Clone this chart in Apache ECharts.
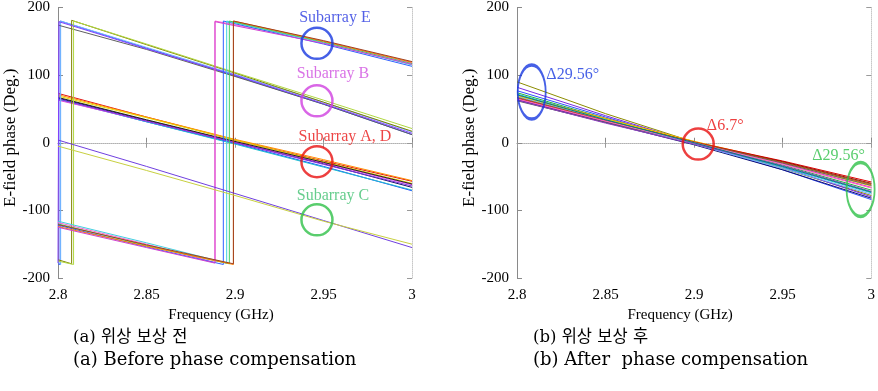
<!DOCTYPE html>
<html>
<head>
<meta charset="utf-8">
<script src="https://cdn.jsdelivr.net/npm/echarts/dist/echarts.min.js"></script>
<style>
html,body{margin:0;padding:0;background:#fff;}
#chart{width:878px;height:391px;}
</style>
</head>
<body>
<div id="chart"></div>
<script>
// ---------- tick labels ----------
const xTicks = [2.8, 2.85, 2.9, 2.95, 3];
const yTicks = [-200, -100, 0, 100, 200];

// ---------- (a) before compensation : [GHz, deg] ----------
// Subarray A, D group
const ad1 = [[2.8,73],[2.85,38],[2.9,4],[2.95,-27],[3.0,-57]];
const ad2 = [[2.8,71],[2.85,38],[2.9,5],[2.95,-25],[3.0,-56]];
const ad3 = [[2.8,65],[2.85,31],[2.9,-1],[2.95,-35],[3.0,-71]];
const ad4 = [[2.8,66],[2.85,33],[2.9,1],[2.95,-31],[3.0,-66]];
const ad5 = [[2.8,64],[2.85,31],[2.9,-2],[2.95,-36],[3.0,-70]];
const ad6 = [[2.8,63],[2.85,32],[2.9,1],[2.95,-30],[3.0,-62]];
const ad7 = [[2.8,69],[2.85,37],[2.9,4],[2.95,-28],[3.0,-60]];
const ad8 = [[2.8,65],[2.85,32],[2.9,0],[2.95,-32],[3.0,-64]];
const ad9 = [[2.8,67],[2.85,34],[2.9,2],[2.95,-29],[3.0,-61]];
// Subarray B group (wraps near 2.80-2.81)
const b1 = [[2.8,-179],[2.8012,-180],[2.8012,180],[2.85,140],[2.9,99],[2.95,57],[3.0,12]];
const b2 = [[2.8,-177],[2.8015,-180],[2.8015,180],[2.85,141],[2.9,101],[2.95,60],[3.0,16]];
const b3 = [[2.8,174],[2.85,138],[2.9,98],[2.95,57],[3.0,12]];
const b4 = [[2.8,-173],[2.8077,-179],[2.8077,181],[2.85,145],[2.9,103],[2.95,60],[3.0,17]];
const b5 = [[2.8,-175],[2.8088,-180],[2.8088,180],[2.85,146],[2.9,104],[2.95,63],[3.0,21]];
const b6 = [[2.8,-178],[2.8005,-180],[2.8005,179],[2.85,139],[2.9,100],[2.95,58],[3.0,14]];
// Subarray E group (wraps near 2.89-2.90)
const e1 = [[2.8,-118],[2.85,-150],[2.8887,-177],[2.8887,180],[2.95,150],[3.0,118]];
const e2 = [[2.8,-122],[2.85,-154],[2.8934,-180],[2.8934,180],[2.95,146],[3.0,113]];
const e3 = [[2.8,-116],[2.85,-148],[2.8953,-178],[2.8953,180],[2.95,148],[3.0,115]];
const e4 = [[2.8,-120],[2.85,-152],[2.8968,-179],[2.8968,180],[2.95,149],[3.0,117]];
const e5 = [[2.8,-124],[2.85,-153],[2.8991,-180],[2.8991,180],[2.95,150],[3.0,119]];
const e6 = [[2.8,-125],[2.85,-155],[2.8887,-178],[2.8887,179],[2.95,147],[3.0,116]];
const e7 = [[2.8,-121],[2.85,-151],[2.8991,-179],[2.8991,180],[2.95,151],[3.0,120]];
// Subarray C group
const c1 = [[2.8,4],[2.85,-35],[2.9,-75],[2.95,-115],[3.0,-155]];
const c2 = [[2.8,-5],[2.85,-41],[2.9,-78],[2.95,-116],[3.0,-150]];

// ---------- (b) after compensation ----------
const r1  = [[2.8,90],[2.85,43],[2.9,1],[2.95,-38],[3.0,-78]];
const r2  = [[2.8,82],[2.85,40],[2.9,0],[2.95,-36],[3.0,-80]];
const r3  = [[2.8,77],[2.85,38],[2.9,-1],[2.95,-40],[3.0,-84]];
const r4  = [[2.8,74],[2.85,36],[2.9,1],[2.95,-33],[3.0,-70]];
const r5  = [[2.8,72],[2.85,35],[2.9,-1],[2.95,-36],[3.0,-74]];
const r6  = [[2.8,70],[2.85,36],[2.9,2],[2.95,-28],[3.0,-62]];
const r7  = [[2.8,69],[2.85,35],[2.9,2],[2.95,-30],[3.0,-64]];
const r8  = [[2.8,66],[2.85,33],[2.9,1],[2.95,-27],[3.0,-58]];
const r9  = [[2.8,65],[2.85,32],[2.9,0],[2.95,-28],[3.0,-60]];
const r10 = [[2.8,64],[2.85,31],[2.9,-1],[2.95,-31],[3.0,-66]];
const r11 = [[2.8,63],[2.85,30],[2.9,-3],[2.95,-40],[3.0,-82]];
const r12 = [[2.8,62],[2.85,30],[2.9,0],[2.95,-30],[3.0,-63]];
const r13 = [[2.8,68],[2.85,34],[2.9,-2],[2.95,-38],[3.0,-76]];
const r14 = [[2.8,67],[2.85,33],[2.9,1],[2.95,-29],[3.0,-61]];
const r15 = [[2.8,65],[2.85,32],[2.9,0],[2.95,-32],[3.0,-67]];
const r16 = [[2.8,63],[2.85,29],[2.9,-2],[2.95,-34],[3.0,-72]];
const r17 = [[2.8,71],[2.85,34],[2.9,0],[2.95,-35],[3.0,-73]];

// ---------- annotations ----------
const leftMarks = [[2.9463,147],[2.9463,62],[2.9463,-28],[2.9463,-114]];
const leftMarkText = ['Subarray E','Subarray B','Subarray A, D','Subarray C'];
const rightMarks = [[2.8083,75],[2.9023,-2],[2.9940,-69]];
const rightMarkText = ['\u039429.56\u00b0','\u03946.7\u00b0','\u039429.56\u00b0'];
const captions = ['(a) 위상 보상 전','(a) Before phase compensation','(b) 위상 보상 후','(b) After  phase compensation'];

// ---------- styles ----------
const leftSeriesData = [ad1,ad2,ad3,ad4,ad5,ad6,ad7,ad8,ad9,b1,b2,b3,b4,b5,b6,e1,e2,e3,e4,e5,e6,e7,c1,c2];
const leftColors = ['#e01010','#ff8c00','#2040ff','#151560','#20c0d0','#e040e0','#e8d800','#8030e0','#202020',
  '#3050ff','#70b8ff','#606060','#808000','#b0d840','#8040ff',
  '#ff60d0','#3060ff','#40d0e0','#40d060','#ff8000','#d040d0','#a04020',
  '#7040e0','#c8d040'];
const rightSeriesData = [r1,r2,r3,r4,r5,r6,r7,r8,r9,r10,r11,r12,r13,r14,r15,r16,r17];
const rightColors = ['#8c8c00','#7a28e0','#3050ff','#20b040','#20c0d0','#ff8c00','#e8e000','#e00000','#900000',
  '#d020d0','#101070','#606060','#70b0ff','#a05020','#ff70c0','#9040c0','#008080'];
const leftMarkColors = ['#1838e0','#d040e0','#e81010','#30c048'];
const leftTextColors = ['#2838e0','#d050e0','#e81818','#40c070'];
const leftOffsets = [[18,-26],[16,-27],[28,-25],[16,-24]];
const rightMarkColors = ['#1838e0','#e81010','#30c048'];
const rightOffsets = [[41,-17],[27,-18],[-22,-34]];
const rightSizes = [[28,54],[31,31],[28,54]];

const SERIF = 'Liberation Serif';
const CAP = 'DejaVu Serif';
const KR = 'DejaVu Serif, Noto Sans CJK KR';
const ELLIPSE = 'path://M1,0 C1.552,0 2,0.448 2,1 C2,1.552 1.552,2 1,2 C0.448,2 0,1.552 0,1 C0,0.448 0.448,0 1,0 Z';

function fmtX(v){ return String(+v.toFixed(2)); }

function mainX(grid){
  return {
    type:'value', gridIndex:grid, min:xTicks[0], max:xTicks[xTicks.length-1], interval:0.05,
    name:'Frequency (GHz)', nameLocation:'middle', nameGap:28,
    nameTextStyle:{fontFamily:SERIF, fontSize:15, color:'#000', padding:[0,28,0,0]},
    axisLine:{show:true, lineStyle:{color:'#8a8a8a', width:1}},
    axisTick:{show:true, inside:true, length:5, lineStyle:{color:'#8a8a8a'}},
    axisLabel:{fontFamily:SERIF, fontSize:15, color:'#000', margin:10, formatter:fmtX},
    splitLine:{show:false}
  };
}
function topX(grid){
  return {
    type:'value', gridIndex:grid, position:'top', min:xTicks[0], max:xTicks[xTicks.length-1], interval:0.05,
    axisLine:{show:true, lineStyle:{color:'#c8c8c8', type:'dotted', width:1}},
    axisTick:{show:true, inside:true, length:5, lineStyle:{color:'#9a9a9a'}},
    axisLabel:{show:false}, splitLine:{show:false}
  };
}
function mainY(grid){
  return {
    type:'value', gridIndex:grid, min:yTicks[0], max:yTicks[yTicks.length-1], interval:100,
    name:'E-field phase (Deg.)', nameLocation:'middle', nameGap:38,
    nameTextStyle:{fontFamily:SERIF, fontSize:17, color:'#000', padding:[0,0,0,10]},
    axisLine:{show:true, lineStyle:{color:'#8a8a8a', width:1}},
    axisTick:{show:true, inside:true, length:5, lineStyle:{color:'#8a8a8a'}},
    axisLabel:{fontFamily:SERIF, fontSize:15, color:'#000', margin:8},
    splitLine:{show:false}
  };
}
function rightY(grid){
  return {
    type:'value', gridIndex:grid, position:'right', min:yTicks[0], max:yTicks[yTicks.length-1], interval:100,
    axisLine:{show:true, lineStyle:{color:'#c8c8c8', type:'dotted', width:1}},
    axisTick:{show:true, inside:true, length:5, lineStyle:{color:'#9a9a9a'}},
    axisLabel:{show:false}, splitLine:{show:false}
  };
}

const series = [];
leftSeriesData.forEach((d,i)=>{
  series.push({type:'line', xAxisIndex:0, yAxisIndex:0, data:d, showSymbol:false, symbol:'none',
    lineStyle:{width:1, color:leftColors[i]}, z:2});
});
rightSeriesData.forEach((d,i)=>{
  series.push({type:'line', xAxisIndex:2, yAxisIndex:2, data:d, showSymbol:false, symbol:'none',
    lineStyle:{width:1, color:rightColors[i]}, z:2});
});
series.push({
  type:'scatter', xAxisIndex:0, yAxisIndex:0, symbol:'circle', symbolSize:31, z:5,
  data: leftMarks.map((p,i)=>({
    value:p,
    itemStyle:{color:'rgba(0,0,0,0)', borderColor:leftMarkColors[i], borderWidth:2.5},
    label:{show:true, position:'inside', offset:leftOffsets[i], formatter:leftMarkText[i],
      color:leftTextColors[i], fontFamily:SERIF, fontSize:16}
  }))
});
series.push({
  type:'scatter', xAxisIndex:2, yAxisIndex:2, symbol:ELLIPSE, z:5,
  data: rightMarks.map((p,i)=>({
    value:p, symbolSize:rightSizes[i],
    itemStyle:{color:'rgba(0,0,0,0)', borderColor:rightMarkColors[i], borderWidth:2.5},
    label:{show:true, position:'inside', offset:rightOffsets[i], formatter:rightMarkText[i],
      color:rightMarkColors[i], fontFamily:SERIF, fontSize:16}
  }))
});

function cap(text, left, top, family, size){
  return {type:'text', left:left, top:top,
    style:{text:text, fontFamily:family, fontSize:size, fill:'#000'}};
}

const chart = echarts.init(document.getElementById('chart'), null, {renderer:'canvas'});
chart.setOption({
  animation:false,
  backgroundColor:'#ffffff',
  grid:[
    {left:58, top:7, width:354, height:271},
    {left:517, top:7, width:355, height:271}
  ],
  xAxis:[mainX(0), topX(0), mainX(1), topX(1)],
  yAxis:[mainY(0), rightY(0), mainY(1), rightY(1)],
  series:series,
  graphic:[
    cap(captions[0], 73, 329, KR, 16.5),
    cap(captions[1], 73, 351, CAP, 18),
    cap(captions[2], 533, 329, KR, 16.5),
    cap(captions[3], 533, 351, CAP, 18)
  ]
});
</script>
</body>
</html>
